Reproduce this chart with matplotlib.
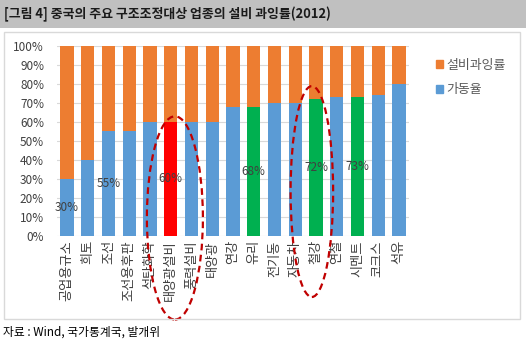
import matplotlib
matplotlib.use('Agg')
import matplotlib.pyplot as plt
import matplotlib.patches as mpatches
from matplotlib.ticker import PercentFormatter

plt.rcParams['font.family'] = ['Noto Sans CJK KR', 'DejaVu Sans']

# Data
industries = ['공업용규소', '희토', '조선', '조선용후판', '석탄화학', '태양광설비', '풍력설비',
              '태양광', '연강', '유리', '전기동', '자동차', '철강', '연철', '시멘트', '코크스', '석유']
utilization = [30, 40, 55, 55, 60, 60, 60, 60, 68, 68, 70, 70, 72, 73, 73, 74, 80]
overcapacity = [100 - v for v in utilization]
highlight_red = ['태양광설비']
highlight_green = ['유리', '철강', '시멘트']
labeled = ['공업용규소', '조선', '태양광설비', '유리', '철강', '시멘트']

BLUE = '#5B9BD5'
ORANGE = '#ED7D31'
GREEN = '#00B050'
RED = '#FF0000'

fig = plt.figure(figsize=(5.26, 3.48), dpi=100)

# title band
fig.patches.append(mpatches.Rectangle((0, 1 - 28 / 348), 1, 28 / 348, transform=fig.transFigure,
                                      facecolor='#C0C0C0', edgecolor='none', zorder=0))
fig.text(0.008, 1 - 14 / 348, '[그림 4] 중국의 주요 구조조정대상 업종의 설비 과잉률(2012)',
         fontsize=9.3, fontweight='bold', va='center', ha='left', color='#1a1a1a')

# chart frame
fig.patches.append(mpatches.Rectangle((4 / 526, 1 - 319 / 348), 516 / 526, 287 / 348,
                                      transform=fig.transFigure, facecolor='none',
                                      edgecolor='#D9D9D9', linewidth=1, zorder=0))

ax = fig.add_axes([56.6 / 526, 1 - 236 / 348, (409.4 - 56.6) / 526, 190 / 348])

x = list(range(len(industries)))
colors = []
for name in industries:
    if name in highlight_red:
        colors.append(RED)
    elif name in highlight_green:
        colors.append(GREEN)
    else:
        colors.append(BLUE)

ax.bar(x, utilization, width=0.63, color=colors, zorder=2)
ax.bar(x, overcapacity, width=0.63, bottom=utilization, color=ORANGE, zorder=2)

for i, name in enumerate(industries):
    if name in labeled:
        ax.text(i, utilization[i] / 2, '%d%%' % utilization[i], ha='center', va='center',
                fontsize=8.5, color='#404040', zorder=3)

ax.set_xlim(-0.5, len(industries) - 0.5)
ax.set_ylim(0, 100)
ax.set_yticks(range(0, 101, 10))
ax.yaxis.set_major_formatter(PercentFormatter(decimals=0))
ax.set_xticks(x)
ax.set_xticklabels(industries, rotation=90, fontsize=9.5, color='#404040')
ax.tick_params(axis='y', labelsize=8.5, labelcolor='#404040', length=0, pad=9)
ax.tick_params(axis='x', length=0, pad=3)
ax.grid(axis='y', color='#D9D9D9', linewidth=0.8, zorder=0)
for s in ax.spines.values():
    s.set_visible(False)

# dashed ellipses around highlighted groups
ax.add_patch(mpatches.Ellipse((5.2, 9.5), 2.7, 107, fill=False, edgecolor='#C00000',
                              linestyle=(0, (3, 2)), linewidth=1.6, clip_on=False, zorder=4))
ax.add_patch(mpatches.Ellipse((11.8, 23.4), 2.05, 111, fill=False, edgecolor='#C00000',
                              linestyle=(0, (3, 2)), linewidth=1.6, clip_on=False, zorder=4))

# legend
handles = [mpatches.Patch(color=ORANGE, label='설비과잉률'),
           mpatches.Patch(color=BLUE, label='가동율')]
fig.legend(handles=handles, loc='upper left', bbox_to_anchor=(424 / 526, 1 - 47 / 348),
           frameon=False, fontsize=9.3, handlelength=0.55, handleheight=0.55,
           handletextpad=0.3, labelspacing=0.9, labelcolor='#595959')

fig.text(0.006, 1 - 332 / 348, '자료 : Wind, 국가통계국, 발개위', fontsize=8.5,
         va='center', ha='left', color='black')

fig.savefig('out.png', dpi=100)
